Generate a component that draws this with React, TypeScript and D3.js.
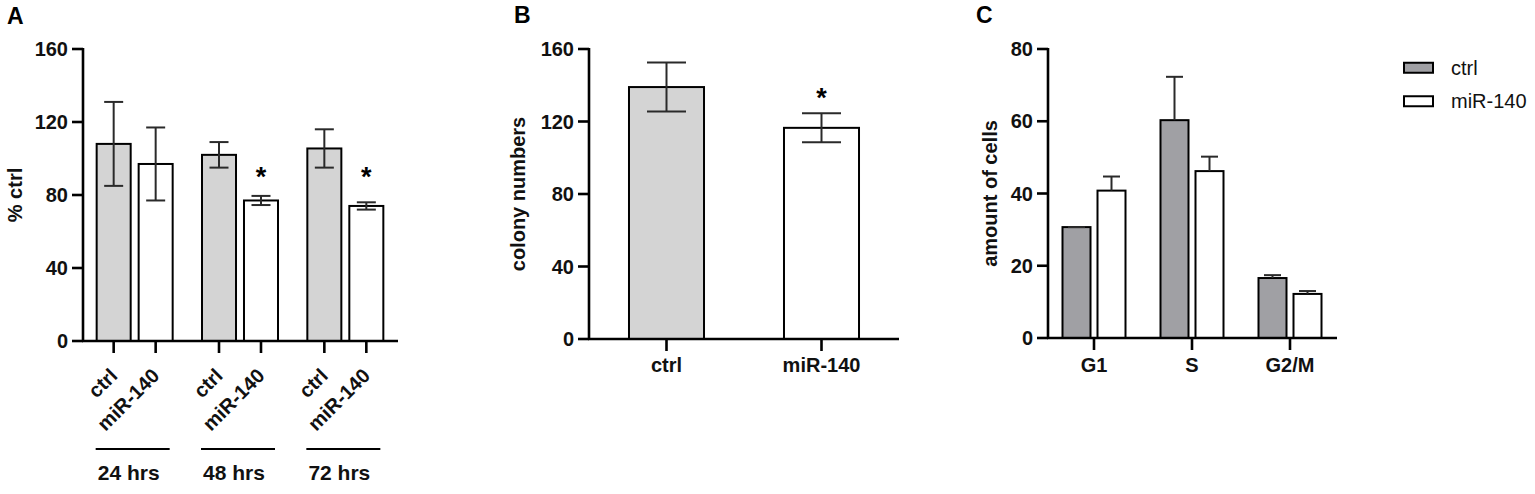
import React from 'react';
import * as d3 from 'd3';

// ---------- Data ----------
const timeGroups = ['24 hrs', '48 hrs', '72 hrs'];
const treatments = ['ctrl', 'miR-140'];
const viabilityCtrl = [108, 102, 105.5];
const viabilityCtrlErr = [23, 7, 10.5];
const viabilityMiR = [97, 77, 74];
const viabilityMiRErr = [20, 2.5, 2];
const viabilitySig = [false, true, true];
const viabilityStarLevel = 93; // value where significance stars sit
const viabilityTicks = [0, 40, 80, 120, 160];

const colonyValues = [139, 116.5];
const colonyErr = [13.5, 8];
const colonySig = [false, true];
const colonyTicks = [0, 40, 80, 120, 160];

const phases = ['G1', 'S', 'G2/M'];
const cycleCtrl = [30.7, 60.3, 16.6];
const cycleCtrlErr = [0, 12, 0.8];
const cycleMiR = [40.8, 46.2, 12.2];
const cycleMiRErr = [3.9, 4, 0.8];
const cycleTicks = [0, 20, 40, 60, 80];

// ---------- Style ----------
const FONT = '"Liberation Sans", Arial, Helvetica, sans-serif';
const LIGHT = '#d4d4d4';
const MID = '#a0a0a4';
const AXW = 2.6;
const ERR = '#2a2a2a';

type Bar = { cx: number; w: number; v: number; e: number; fill: string; sig?: boolean; starV?: number; both: boolean; cap: number };

function Bars({ bars, y }: { bars: Bar[]; y: d3.ScaleLinear<number, number> }) {
  return (
    <g>
      {bars.map((b, i) => (
        <rect key={'r' + i} x={b.cx - b.w / 2} y={y(b.v)} width={b.w} height={y(0) - y(b.v)}
          fill={b.fill} stroke="#000" strokeWidth={2} />
      ))}
      {bars.map((b, i) => {
        const top = y(b.v + b.e);
        const bot = b.both ? y(b.v - b.e) : y(b.v);
        return (
          <g key={'e' + i} stroke={ERR} strokeWidth={2}>
            <line x1={b.cx} x2={b.cx} y1={top} y2={bot} />
            <line x1={b.cx - b.cap / 2} x2={b.cx + b.cap / 2} y1={top} y2={top} />
            {b.both && <line x1={b.cx - b.cap / 2} x2={b.cx + b.cap / 2} y1={bot} y2={bot} />}
          </g>
        );
      })}
      {bars.filter(b => b.sig).map((b, i) => {
        const base = b.starV !== undefined ? y(b.starV) + 15 : y(b.v + b.e) - 6;
        return (
          <text key={'s' + i} x={b.cx} y={base} textAnchor="middle" fontSize={27}
            fontWeight="bold" fontFamily={FONT}>*</text>
        );
      })}
    </g>
  );
}

function YAxis({ x, y, ticks, label, labelX }: { x: number; y: d3.ScaleLinear<number, number>; ticks: number[]; label: string; labelX: number }) {
  const [d0, d1] = y.domain();
  return (
    <g>
      <line x1={x} x2={x} y1={y(d1) - 1} y2={y(d0) + 1} stroke="#000" strokeWidth={AXW} />
      {ticks.map(t => (
        <g key={t}>
          <line x1={x - 11} x2={x} y1={y(t)} y2={y(t)} stroke="#000" strokeWidth={AXW} />
          <text x={x - 15} y={y(t)} dy="0.36em" textAnchor="end" fontSize={20} fontWeight="bold"
            fontFamily={FONT} fill="#111">{t}</text>
        </g>
      ))}
      <text transform={`translate(${labelX},${(y(d0) + y(d1)) / 2}) rotate(-90)`} textAnchor="middle"
        fontSize={20} fontWeight="bold" fontFamily={FONT} fill="#111">{label}</text>
    </g>
  );
}

function PanelA() {
  const y = d3.scaleLinear().domain([0, 160]).range([341, 49]);
  const gx = d3.scaleBand<string>().domain(timeGroups).range([82, 398]);
  const sx = d3.scaleBand<string>().domain(treatments).range([-38, 38]).paddingInner(0.19);
  const bars: Bar[] = [];
  timeGroups.forEach((g, i) => {
    const c = gx(g)! + gx.bandwidth() / 2;
    bars.push({ cx: c + sx('ctrl')! + sx.bandwidth() / 2, w: sx.bandwidth(), v: viabilityCtrl[i], e: viabilityCtrlErr[i], fill: LIGHT, both: true, cap: 19 });
    bars.push({ cx: c + sx('miR-140')! + sx.bandwidth() / 2, w: sx.bandwidth(), v: viabilityMiR[i], e: viabilityMiRErr[i], fill: '#fff', both: true, cap: 19, sig: viabilitySig[i], starV: viabilityStarLevel });
  });
  return (
    <g>
      <text x={7} y={24} fontSize={23} fontWeight="bold" fontFamily={FONT}>A</text>
      <Bars bars={bars} y={y} />
      <YAxis x={83} y={y} ticks={viabilityTicks} label="% ctrl" labelX={22} />
      <line x1={82} x2={398} y1={341} y2={341} stroke="#000" strokeWidth={AXW} />
      {bars.map((b, i) => (
        <g key={i}>
          <line x1={b.cx} x2={b.cx} y1={341} y2={353} stroke="#000" strokeWidth={AXW} />
          <text transform={`translate(${b.cx},${372}) rotate(-45)`} textAnchor="end" dy="0.35em"
            fontSize={20} fontWeight="bold" fontFamily={FONT} fill="#111">{treatments[i % 2]}</text>
        </g>
      ))}
      {timeGroups.map(g => {
        const c = gx(g)! + gx.bandwidth() / 2;
        return (
          <g key={g}>
            <line x1={c - 39} x2={c + 35} y1={449} y2={449} stroke="#000" strokeWidth={2} />
            <text x={c - 6} y={480} textAnchor="middle" fontSize={21} fontWeight="bold" fontFamily={FONT} fill="#111">{g}</text>
          </g>
        );
      })}
    </g>
  );
}

function PanelB() {
  const y = d3.scaleLinear().domain([0, 160]).range([339, 49]);
  const x = d3.scaleBand<string>().domain(treatments).range([589, 899]).paddingInner(0.516).paddingOuter(0.258);
  const bars: Bar[] = treatments.map((t, i) => ({
    cx: x(t)! + x.bandwidth() / 2, w: x.bandwidth(), v: colonyValues[i], e: colonyErr[i],
    fill: i === 0 ? LIGHT : '#fff', both: true, cap: 39, sig: colonySig[i],
  }));
  return (
    <g>
      <text x={514} y={23} fontSize={23} fontWeight="bold" fontFamily={FONT}>B</text>
      <Bars bars={bars} y={y} />
      <YAxis x={589} y={y} ticks={colonyTicks} label="colony numbers" labelX={525} />
      <line x1={588} x2={899} y1={339} y2={339} stroke="#000" strokeWidth={AXW} />
      {bars.map((b, i) => (
        <g key={i}>
          <line x1={b.cx} x2={b.cx} y1={339} y2={351} stroke="#000" strokeWidth={AXW} />
          <text x={b.cx} y={372} textAnchor="middle" fontSize={20} fontWeight="bold" fontFamily={FONT} fill="#111">{treatments[i]}</text>
        </g>
      ))}
    </g>
  );
}

function PanelC() {
  const y = d3.scaleLinear().domain([0, 80]).range([338, 49]);
  const gx = d3.scaleBand<string>().domain(phases).range([1045, 1339]);
  const sx = d3.scaleBand<string>().domain(treatments).range([-31.5, 31.5]).paddingInner(0.2);
  const bars: Bar[] = [];
  phases.forEach((p, i) => {
    const c = gx(p)! + gx.bandwidth() / 2;
    bars.push({ cx: c + sx('ctrl')! + sx.bandwidth() / 2, w: sx.bandwidth(), v: cycleCtrl[i], e: cycleCtrlErr[i], fill: MID, both: false, cap: 17 });
    bars.push({ cx: c + sx('miR-140')! + sx.bandwidth() / 2, w: sx.bandwidth(), v: cycleMiR[i], e: cycleMiRErr[i], fill: '#fff', both: false, cap: 17 });
  });
  const legendY = d3.scaleBand<string>().domain(treatments).range([51, 118]);
  return (
    <g>
      <text x={976} y={23} fontSize={23} fontWeight="bold" fontFamily={FONT}>C</text>
      <Bars bars={bars} y={y} />
      <YAxis x={1048} y={y} ticks={cycleTicks} label="amount of cells" labelX={997} />
      <line x1={1047} x2={1337} y1={338} y2={338} stroke="#000" strokeWidth={AXW} />
      {phases.map(p => {
        const c = gx(p)! + gx.bandwidth() / 2;
        return (
          <g key={p}>
            <line x1={c} x2={c} y1={338} y2={350} stroke="#000" strokeWidth={AXW} />
            <text x={c} y={372} textAnchor="middle" fontSize={20} fontWeight="bold" fontFamily={FONT} fill="#111">{p}</text>
          </g>
        );
      })}
      {treatments.map((t, i) => {
        const cy = legendY(t)! + legendY.bandwidth() / 2;
        return (
          <g key={t}>
            <rect x={1404} y={cy - 5} width={29} height={10} fill={i === 0 ? MID : '#fff'} stroke="#000" strokeWidth={2} />
            <text x={1451} y={cy} dy="0.36em" fontSize={20} fontFamily={FONT} fill="#111">{t}</text>
          </g>
        );
      })}
    </g>
  );
}

export default function App() {
  return (
    <svg width={1535} height={494} style={{ position: 'absolute', left: 0, top: 0, background: '#fff' }}>
      <rect width={1535} height={494} fill="#fff" />
      <PanelA />
      <PanelB />
      <PanelC />
    </svg>
  );
}
